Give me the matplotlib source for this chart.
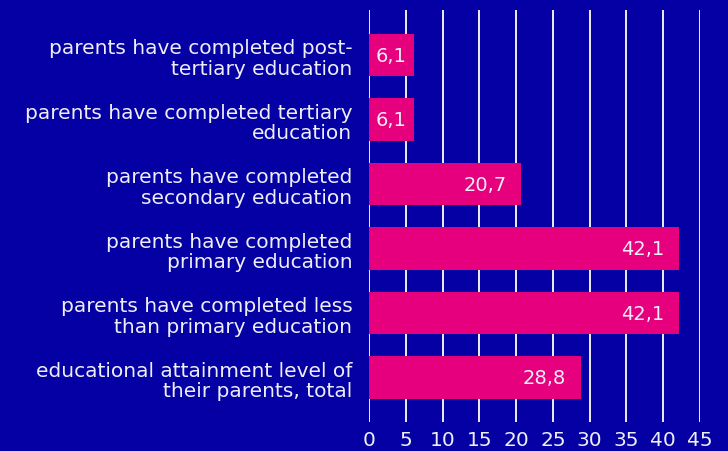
import matplotlib
matplotlib.use("Agg")
import matplotlib.pyplot as plt

BG = "#0500a3"
BAR = "#e6007e"
TXT = "#eeeef6"

categories = [
    "educational attainment level of\ntheir parents, total",
    "parents have completed less\nthan primary education",
    "parents have completed\nprimary education",
    "parents have completed\nsecondary education",
    "parents have completed tertiary\neducation",
    "parents have completed post-\ntertiary education",
]
values = [28.8, 42.1, 42.1, 20.7, 6.1, 6.1]
value_labels = ["28,8", "42,1", "42,1", "20,7", "6,1", "6,1"]
xticks = list(range(0, 50, 5))

plt.rcParams["font.family"] = ["DejaVu Sans"]

fig = plt.figure(figsize=(7.28, 4.52), dpi=100, facecolor=BG)
ax = fig.add_axes([0.507, 0.064, 0.4545, 0.912])
ax.set_facecolor(BG)

ypos = list(range(len(categories)))
ax.set_axisbelow(True)
ax.grid(axis="x", color="white", linewidth=1.3)
ax.barh(ypos, values, height=0.66, color=BAR, zorder=3)
for y, v, lab in zip(ypos, values, value_labels):
    off = 2.0 if v > 10 else 1.0
    ax.text(v - off, y, lab, ha="right", va="center", color=TXT,
            fontsize=14, zorder=4)

ax.set_xlim(0, 45)
ax.set_ylim(-0.69, 5.7)
ax.set_xticks(xticks)
ax.set_yticks(ypos)
ax.set_yticklabels(categories, fontsize=14.5, color=TXT, linespacing=1.1)
ax.tick_params(axis="y", length=0, pad=12)
ax.tick_params(axis="x", length=0, pad=6, labelsize=14.5, labelcolor=TXT)
for s in ax.spines.values():
    s.set_visible(False)

fig.savefig("out.png", dpi=100, facecolor=BG)
